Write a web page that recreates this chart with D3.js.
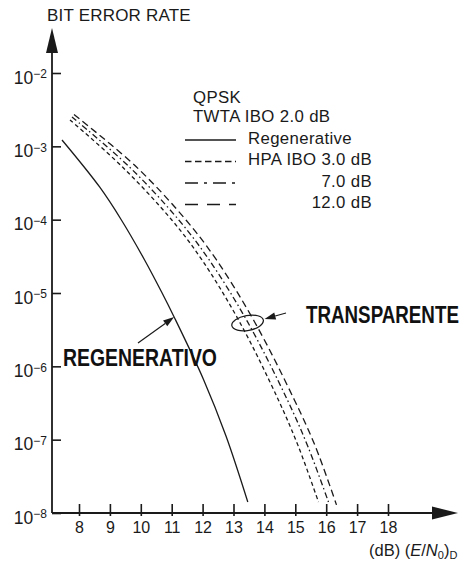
<!DOCTYPE html>
<html>
<head>
<meta charset="utf-8">
<script src="https://cdn.jsdelivr.net/npm/d3@7"></script>
<style>
  html, body { margin: 0; padding: 0; background: #fff; }
  svg { display: block; font-family: "Liberation Sans", Arial, Helvetica, sans-serif; }
</style>
</head>
<body>
<svg id="chart" width="464" height="562"></svg>
<script>
// Axis ticks
const ebn0Ticks = [8, 9, 10, 11, 12, 13, 14, 15, 16, 17, 18];
const berExponents = [-2, -3, -4, -5, -6, -7, -8];

// Regenerative link: Eb/N0 (dB) and bit error rate
const regenEbN0 = [7.45, 8.667, 9.372, 10.123, 10.673, 11.078, 12.036, 12.757, 13.463];
const regenBer  = [1.22e-3, 2.79e-4, 9.9e-5, 2.82e-5, 1.03e-5, 4.71e-6, 6.52e-7, 1.12e-7, 1.41e-8];

// Transparent link, HPA IBO 3.0 dB
const hpa3EbN0 = [7.709, 9.408, 11.003, 11.981, 13.197, 14.453, 15.107, 15.751];
const hpa3Ber  = [2.29e-3, 5.22e-4, 9.9e-5, 2.82e-5, 4.03e-6, 3.48e-7, 7.94e-8, 1.41e-8];

// Transparent link, HPA IBO 7.0 dB
const hpa7EbN0 = [7.773, 9.634, 11.230, 12.214, 13.456, 14.744, 15.414, 16.074];
const hpa7Ber  = [2.51e-3, 5.22e-4, 9.9e-5, 2.82e-5, 4.03e-6, 3.48e-7, 7.94e-8, 1.41e-8];

// Transparent link, HPA IBO 12.0 dB
const hpa12EbN0 = [7.838, 9.861, 11.463, 12.450, 13.683, 14.971, 15.657, 16.333];
const hpa12Ber  = [2.72e-3, 5.22e-4, 9.9e-5, 2.82e-5, 4.03e-6, 3.48e-7, 7.94e-8, 1.29e-8];

const legendTitle = ["QPSK", "TWTA IBO 2.0 dB"];
const legendLabels = ["Regenerative", "HPA IBO 3.0 dB", "7.0 dB", "12.0 dB"];

const ink = "#1a1a1a";
const svg = d3.select("#chart");

const x = d3.scaleLinear().domain([8, 18]).range([79, 388]);
const y = d3.scaleLog().domain([1e-8, 1e-2]).range([513, 73]);
const axisX = 52, axisY = 513;

// ---- axes lines with arrowheads
svg.append("line").attr("x1", axisX).attr("y1", axisY).attr("x2", axisX).attr("y2", 48)
  .attr("stroke", ink).attr("stroke-width", 1.8);
svg.append("path").attr("d", `M${axisX},28 L${axisX - 6},53 L${axisX + 6},53 Z`).attr("fill", ink);
svg.append("line").attr("x1", axisX).attr("y1", axisY).attr("x2", 440).attr("y2", axisY)
  .attr("stroke", ink).attr("stroke-width", 1.8);
svg.append("path").attr("d", `M458,${axisY} L432,${axisY - 6.5} L432,${axisY + 6.5} Z`).attr("fill", ink);

// ---- y ticks (log scale) with power-of-ten labels
const gy = svg.append("g").attr("transform", `translate(${axisX},0)`)
  .call(d3.axisRight(y).tickValues(berExponents.map(e => Math.pow(10, e))).tickSize(9).tickFormat(""));
gy.select(".domain").remove();
gy.selectAll(".tick line").attr("stroke", ink).attr("stroke-width", 1.6);

berExponents.forEach(e => {
  const t = svg.append("text")
    .attr("x", 47).attr("y", y(Math.pow(10, e)) + 10.7)
    .attr("text-anchor", "end").attr("fill", ink);
  t.append("tspan").attr("font-size", 17.5).text("10");
  t.append("tspan").attr("font-size", 12).attr("dy", -5.5).text("\u2212" + Math.abs(e));
});

// ---- x ticks crossing the axis
const gx = svg.append("g").attr("transform", `translate(0,${axisY})`)
  .call(d3.axisBottom(x).tickValues(ebn0Ticks).tickSize(3).tickFormat(d3.format("d")));
gx.select(".domain").remove();
gx.selectAll(".tick line").attr("y1", -9).attr("y2", 3).attr("stroke", ink).attr("stroke-width", 1.6);
gx.selectAll(".tick text").attr("y", 20).attr("dy", 0)
  .attr("font-size", 16).attr("fill", ink)
  .attr("font-family", "'Liberation Sans', Arial, sans-serif");

// ---- axis titles
svg.append("text").attr("x", 47).attr("y", 21).attr("font-size", 17).attr("fill", ink)
  .attr("letter-spacing", 0.2).text("BIT ERROR RATE");

const xt = svg.append("text").attr("x", 369).attr("y", 556).attr("font-size", 16.5).attr("fill", ink);
xt.append("tspan").text("(dB) (");
xt.append("tspan").attr("font-style", "italic").text("E");
xt.append("tspan").text("/");
xt.append("tspan").attr("font-style", "italic").text("N");
xt.append("tspan").attr("font-size", 11).attr("dy", 3).text("0");
xt.append("tspan").attr("dy", -3).text(")");
xt.append("tspan").attr("font-size", 11).attr("dy", 3).text("D");

// ---- curves
const line = d3.line().x(d => x(d[0])).y(d => y(d[1])).curve(d3.curveCatmullRom.alpha(0.5));
const series = [
  { ebn0: regenEbN0, ber: regenBer, dash: null,          legendDash: null },
  { ebn0: hpa3EbN0,  ber: hpa3Ber,  dash: "4,3",         legendDash: "6.5,3.5" },
  { ebn0: hpa7EbN0,  ber: hpa7Ber,  dash: "6,3,1.5,3",   legendDash: "13,6,3,6" },
  { ebn0: hpa12EbN0, ber: hpa12Ber, dash: "7,4",         legendDash: "13,9" }
];
series.forEach(s => {
  svg.append("path")
    .datum(d3.zip(s.ebn0, s.ber))
    .attr("d", line)
    .attr("fill", "none").attr("stroke", ink).attr("stroke-width", 1.3)
    .attr("stroke-dasharray", s.dash);
});

// ---- legend
const legendFont = 16.8, legendSpacing = 0.35;
svg.append("text").attr("x", 193).attr("y", 103).attr("font-size", legendFont)
  .attr("letter-spacing", legendSpacing).attr("fill", ink).text(legendTitle[0]);
svg.append("text").attr("x", 193).attr("y", 122).attr("font-size", legendFont)
  .attr("letter-spacing", legendSpacing).attr("fill", ink).text(legendTitle[1]);
legendLabels.forEach((lab, i) => {
  const base = 143.5 + i * 21.5;
  svg.append("line").attr("x1", 185).attr("x2", 236).attr("y1", base - 3.5).attr("y2", base - 3.5)
    .attr("stroke", ink).attr("stroke-width", 1.3).attr("stroke-dasharray", series[i].legendDash);
  const t = svg.append("text").attr("y", base).attr("font-size", legendFont)
    .attr("letter-spacing", legendSpacing).attr("fill", ink).text(lab);
  if (i === 0) t.attr("x", 248);
  else t.attr("x", 372).attr("text-anchor", "end");
});

// ---- annotations
function arrow(x1, y1, x2, y2) {
  const a = Math.atan2(y2 - y1, x2 - x1), L = 11, W = 3.6;
  const bx = x2 - L * Math.cos(a), by = y2 - L * Math.sin(a);
  svg.append("line").attr("x1", x1).attr("y1", y1).attr("x2", bx).attr("y2", by)
    .attr("stroke", ink).attr("stroke-width", 1.2);
  svg.append("path")
    .attr("d", `M${x2},${y2} L${bx + W * Math.sin(a)},${by - W * Math.cos(a)} L${bx - W * Math.sin(a)},${by + W * Math.cos(a)} Z`)
    .attr("fill", ink);
}

// Bold condensed caption: drawn at full size, then squeezed horizontally to a set width
function condensedLabel(txt, left, baseline, width, size) {
  const g = svg.append("g");
  const t = g.append("text").attr("x", 0).attr("y", 0)
    .attr("font-family", "'Liberation Sans', Arial, sans-serif")
    .attr("font-weight", "bold").attr("font-size", size)
    .attr("fill", "#111").text(txt);
  const natural = t.node().getComputedTextLength();
  g.attr("transform", `translate(${left},${baseline}) scale(${width / natural},1)`);
}

// Regenerative callout points at the solid curve
arrow(138, 343, x(regenEbN0[5]), y(regenBer[5]));
condensedLabel("REGENERATIVO", 63, 366, 154, 24);

// Transparent callout: ellipse around the three HPA curves
const ex = x(hpa7EbN0[4]), ey = y(hpa7Ber[4]) + 1;
svg.append("ellipse").attr("cx", ex).attr("cy", ey).attr("rx", 16).attr("ry", 7.5)
  .attr("transform", `rotate(-10,${ex},${ey})`)
  .attr("fill", "none").attr("stroke", ink).attr("stroke-width", 1.2);
arrow(286, 313, ex + 17, ey - 4);
condensedLabel("TRANSPARENTE", 306, 323, 153, 24.5);
</script>
</body>
</html>
